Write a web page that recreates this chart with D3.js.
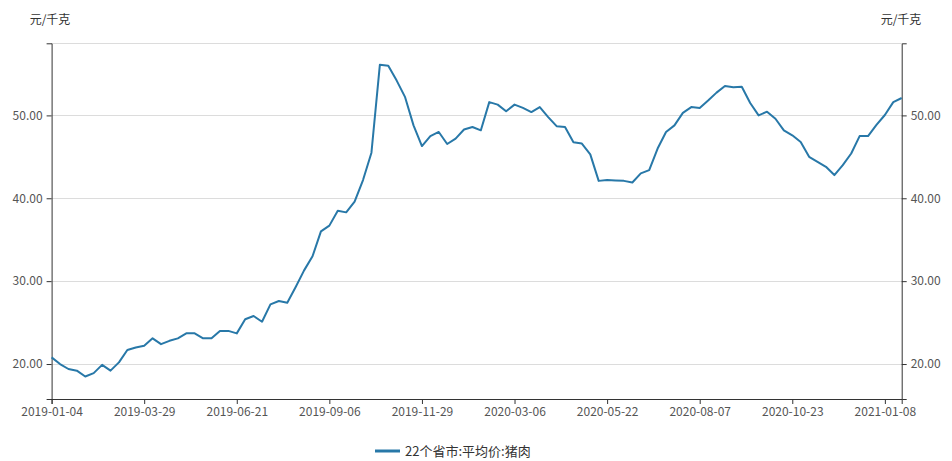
<!DOCTYPE html>
<html>
<head>
<meta charset="utf-8">
<script src="https://cdn.jsdelivr.net/npm/d3@7"></script>
<style>
  body { margin: 0; background: #fff; }
  text { font-family: "Microsoft YaHei", "Noto Sans CJK SC", sans-serif; }
</style>
</head>
<body>
<div id="chart"></div>
<script>
// weekly dates (some holiday weeks missing) and prices
var dates = [
  "2019-01-04","2019-01-11","2019-01-18","2019-01-25","2019-02-01","2019-02-15","2019-02-22","2019-03-01",
  "2019-03-08","2019-03-15","2019-03-22","2019-03-29","2019-04-05","2019-04-12","2019-04-19","2019-04-26",
  "2019-05-10","2019-05-17","2019-05-24","2019-05-31","2019-06-07","2019-06-14","2019-06-21","2019-06-28",
  "2019-07-05","2019-07-12","2019-07-19","2019-07-26","2019-08-02","2019-08-09","2019-08-16","2019-08-23",
  "2019-08-30","2019-09-06","2019-09-13","2019-09-20","2019-09-27","2019-10-11","2019-10-18","2019-10-25",
  "2019-11-01","2019-11-08","2019-11-15","2019-11-22","2019-11-29","2019-12-06","2019-12-13","2019-12-20",
  "2019-12-27","2020-01-03","2020-01-10","2020-01-17","2020-02-14","2020-02-21","2020-02-28","2020-03-06",
  "2020-03-13","2020-03-20","2020-03-27","2020-04-03","2020-04-10","2020-04-17","2020-04-24","2020-05-01",
  "2020-05-08","2020-05-15","2020-05-22","2020-05-29","2020-06-05","2020-06-12","2020-06-19","2020-06-26",
  "2020-07-03","2020-07-10","2020-07-17","2020-07-24","2020-07-31","2020-08-07","2020-08-14","2020-08-21",
  "2020-08-28","2020-09-04","2020-09-11","2020-09-18","2020-09-25","2020-10-02","2020-10-09","2020-10-16",
  "2020-10-23","2020-10-30","2020-11-06","2020-11-13","2020-11-20","2020-11-27","2020-12-04","2020-12-11",
  "2020-12-18","2020-12-25","2021-01-01","2021-01-08","2021-01-15","2021-01-22"
];

var prices = [
  20.8, 20.0, 19.4, 19.2, 18.5, 18.9, 19.9, 19.2, 20.2, 21.7, 22.0, 22.2,
  23.1, 22.4, 22.8, 23.1, 23.7, 23.7, 23.1, 23.1, 24.0, 24.0, 23.7, 25.4,
  25.8, 25.1, 27.2, 27.6, 27.4, 29.3, 31.3, 33.0, 36.0, 36.7, 38.5, 38.3,
  39.6, 42.2, 45.5, 56.1, 56.0, 54.2, 52.2, 48.8, 46.3, 47.5, 48.0, 46.55,
  47.2, 48.3, 48.6, 48.2, 51.6, 51.3, 50.5, 51.3, 50.9, 50.4, 51.0, 49.8,
  48.7, 48.6, 46.75, 46.6, 45.3, 42.1, 42.2, 42.15, 42.1, 41.9, 43.0, 43.4,
  46.0, 48.0, 48.8, 50.3, 51.0, 50.9, 51.8, 52.75, 53.55, 53.4, 53.45, 51.5,
  50.0, 50.45, 49.6, 48.2, 47.6, 46.8, 45.0, 44.4, 43.8, 42.8, 44.0, 45.4,
  47.5, 47.5, 48.85, 50.05, 51.6, 52.1
];

var yTicks = [20, 30, 40, 50];
var xTickIdx = [0, 11, 22, 33, 44, 55, 66, 77, 88, 99];
var unit = "元/千克";
var seriesName = "22个省市:平均价:猪肉";

var w = 952, h = 461,
    plotLeft = 51.6, plotRight = 901.7, plotTop = 43.3, plotBottom = 399,
    color = "#2878a8";

var svg = d3.select("#chart").append("svg")
    .attr("width", w)
    .attr("height", h);

var x = d3.scaleLinear().domain([0, dates.length - 1]).range([plotLeft, plotRight]),
    y = d3.scaleLinear().domain([15.78, 58.7]).range([plotBottom, plotTop]);

// grid lines
svg.append("g")
    .selectAll("line")
    .data(yTicks)
    .enter().append("line")
    .attr("x1", plotLeft).attr("x2", plotRight)
    .attr("y1", function(d) { return Math.round(y(d)) + 0.5; })
    .attr("y2", function(d) { return Math.round(y(d)) + 0.5; })
    .attr("stroke", "#dcdcdc");

svg.append("line")
    .attr("x1", plotLeft).attr("x2", plotRight)
    .attr("y1", Math.round(plotTop) + 0.5).attr("y2", Math.round(plotTop) + 0.5)
    .attr("stroke", "#dcdcdc");

// axes
function styleAxis(g) {
    g.selectAll(".domain").attr("stroke", "#333");
    g.selectAll(".tick line").attr("stroke", "#333");
    g.selectAll(".tick text")
        .attr("fill", "#555")
        .attr("font-size", "12px")
        .style("font-family", "'Microsoft YaHei', 'Noto Sans CJK SC', sans-serif");
}

svg.append("g")
    .attr("transform", "translate(" + plotLeft + ",0)")
    .call(d3.axisLeft(y).tickValues(yTicks).tickSizeOuter(0).tickSize(5).tickPadding(4)
        .tickFormat(d3.format(".2f")))
    .call(styleAxis);

svg.append("g")
    .attr("transform", "translate(" + plotRight + ",0)")
    .call(d3.axisRight(y).tickValues(yTicks).tickSizeOuter(0).tickSize(5).tickPadding(4)
        .tickFormat(d3.format(".2f")))
    .call(styleAxis);

svg.append("g")
    .attr("transform", "translate(0," + plotBottom + ")")
    .call(d3.axisBottom(x).tickValues(xTickIdx).tickSizeOuter(0).tickSize(5).tickPadding(3)
        .tickFormat(function(i) { return dates[i]; }))
    .call(styleAxis);

// unit labels
svg.append("text")
    .attr("x", 50).attr("y", 24)
    .attr("text-anchor", "middle")
    .attr("font-size", "12px").attr("fill", "#333")
    .text(unit);
svg.append("text")
    .attr("x", 901).attr("y", 24)
    .attr("text-anchor", "middle")
    .attr("font-size", "12px").attr("fill", "#333")
    .text(unit);

// data line
var line = d3.line()
    .x(function(d, i) { return x(i); })
    .y(function(d) { return y(d); });

svg.append("path")
    .datum(prices)
    .attr("fill", "none")
    .attr("stroke", color)
    .attr("stroke-width", 2)
    .attr("stroke-linejoin", "round")
    .attr("d", line);

// legend
svg.append("line")
    .attr("x1", 375).attr("x2", 400)
    .attr("y1", 451).attr("y2", 451)
    .attr("stroke", color)
    .attr("stroke-width", 3);
svg.append("text")
    .attr("x", 405).attr("y", 455.5)
    .attr("font-size", "13px").attr("fill", "#333")
    .text(seriesName);
</script>
</body>
</html>
